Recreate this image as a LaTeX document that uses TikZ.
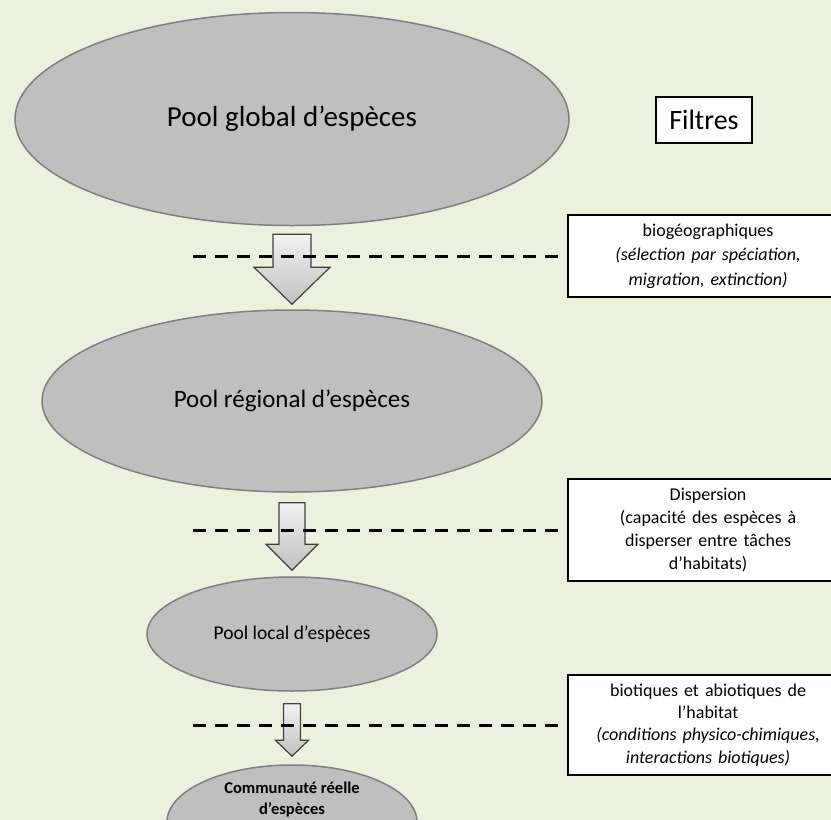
\documentclass[tikz,border=0pt]{standalone}
\usepackage{fontspec}
\setmainfont{Carlito}
\usetikzlibrary{shapes.geometric,calc}
\definecolor{bgolive}{HTML}{EBF1DE}
\definecolor{poolgray}{HTML}{BFBFBF}
\definecolor{pooledge}{HTML}{7F7F7F}
\tikzset{
  pool/.style={ellipse, draw=pooledge, line width=1.5pt, fill=poolgray, inner sep=0pt, align=center},
  filterbox/.style={draw=black, line width=2.2pt, fill=white, anchor=west, minimum width=280pt,
    text width=270pt, inner ysep=9pt, align=center, font=\fontsize{18}{23}\selectfont},
  sieve/.style={line width=3pt, dash pattern=on 13pt off 9pt},
  blockarr/.style={draw=black!75, line width=1.2pt, top color=white!95!black, bottom color=black!25}
}
% block arrow: start, tip, half shaft, half head, head length
\newcommand{\blockarrow}[5]{%
  \path[blockarr] ($(#1)+(-#3,0)$) -- ($(#2)+(-#3,-#5)$) -- ($(#2)+(-#4,-#5)$) -- (#2)
    -- ($(#2)+(#4,-#5)$) -- ($(#2)+(#3,-#5)$) -- ($(#1)+(#3,0)$) -- cycle;}
\begin{document}
\begin{tikzpicture}[x=1pt,y=-1pt]
\fill[bgolive] (0,0) rectangle (831,820);
\useasboundingbox (0,0) rectangle (831,820);

\node[pool, minimum width=554pt, minimum height=213pt, font=\fontsize{29}{35}\selectfont] (global) at (292,119) {Pool global d’espèces};
\node[pool, minimum width=500pt, minimum height=182pt, font=\fontsize{25}{30}\selectfont] (regional) at (292,401) {Pool régional d’espèces};
\node[pool, minimum width=290pt, minimum height=114pt, font=\fontsize{19.5}{24}\selectfont] (local) at (292,634) {Pool local d’espèces};
\node[pool, minimum width=250pt, minimum height=114pt] (reelle) at (292,822) {};
\node[align=center, font=\bfseries\fontsize{16.5}{21}\selectfont] (reelletxt) at (292,799) {Communauté réelle\\d’espèces};

\coordinate (a1s) at ($(global.south)+(0,8)$);
\coordinate (a1e) at ($(regional.north)+(0,-5)$);
\coordinate (a2s) at ($(regional.south)+(0,10)$);
\coordinate (a2e) at ($(local.north)+(0,-6)$);
\coordinate (a3s) at ($(local.south)+(0,12)$);
\coordinate (a3e) at ($(reelle.north)+(0,-8)$);
\blockarrow{a1s}{a1e}{19}{38}{37}
\blockarrow{a2s}{a2e}{13}{26}{26}
\blockarrow{a3s}{a3e}{8.5}{16.5}{16}

\node[draw, line width=2pt, fill=white, minimum width=96pt, minimum height=46pt, font=\fontsize{28}{34}\selectfont] (filtres) at (704,120) {Filtres};

\coordinate (d1) at (193,256);
\coordinate (d2) at (193,530);
\coordinate (d3) at (193,725);
\draw[sieve] (d1) -- (567,256);
\draw[sieve] (d2) -- (567,530);
\draw[sieve] (d3) -- (567,725);

\node[filterbox, font=\fontsize{18}{24.3}\selectfont] (fbio) at (567,256) {biogéographiques\\\textit{(sélection par spéciation,}\\\textit{migration, extinction)}};
\node[filterbox] (fdisp) at (567,530) {Dispersion\\(capacité des espèces à\\disperser entre tâches\\d’habitats)};
\node[filterbox, font=\fontsize{18}{22.3}\selectfont] (fhab) at (567,725) {biotiques et abiotiques de\\l’habitat\\\textit{(conditions physico-chimiques,}\\\textit{interactions biotiques)}};
\end{tikzpicture}
\end{document}
